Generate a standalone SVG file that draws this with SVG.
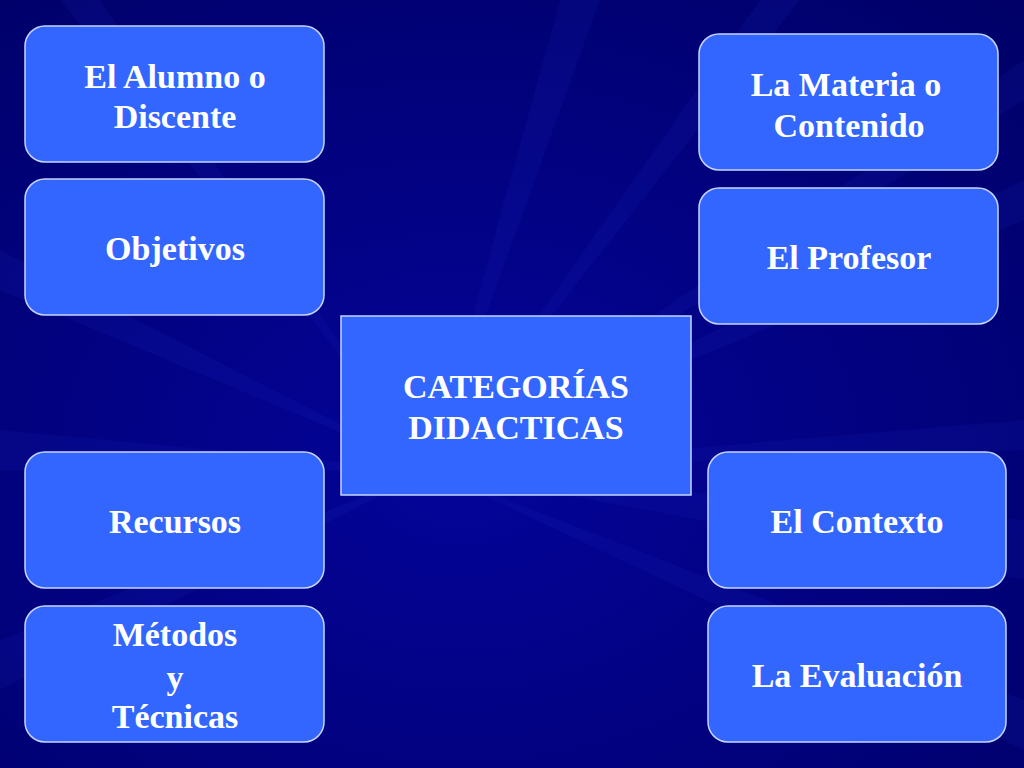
<svg xmlns="http://www.w3.org/2000/svg" width="1024" height="768" viewBox="0 0 1024 768">
<defs>
<style>
.box{fill:#3366FF;stroke:#C8D4FF;stroke-width:1.5}
.t{font-family:"Liberation Serif","Times New Roman",serif;font-weight:bold;font-size:34px;fill:#FFFFFF;text-anchor:middle}
.ray{fill:#2030c8;opacity:0.12}
</style>
<radialGradient id="bg" cx="0.45" cy="0.6" r="0.8">
<stop offset="0" stop-color="#04049a"/>
<stop offset="1" stop-color="#000068"/>
</radialGradient>
</defs>
<rect width="1024" height="768" fill="#000080"/>
<rect width="1024" height="768" fill="url(#bg)"/>
<g id="background-rays">
<polygon class="ray" points="430,470 60,0 100,0"/>
<polygon class="ray" points="430,470 560,0 600,0"/>
<polygon class="ray" points="430,470 760,0 800,0"/>
<polygon class="ray" points="430,470 1024,60 1024,100"/>
<polygon class="ray" points="430,470 1024,180 1024,220"/>
<polygon class="ray" points="430,470 1024,420 1024,450"/>
<polygon class="ray" points="430,470 1024,520 1024,580"/>
<polygon class="ray" points="430,470 1024,700 1024,750"/>
<polygon class="ray" points="430,470 0,250 0,290"/>
<polygon class="ray" points="430,470 0,430 0,470"/>
<polygon class="ray" points="430,470 0,640 0,690"/>
</g>
<g id="connectors"></g>
<g id="alumno"><rect class="box" x="25" y="26" width="299" height="136" rx="20"/><text class="t" x="175" y="88">El Alumno o</text><text class="t" x="175" y="128">Discente</text></g>
<g id="objetivos"><rect class="box" x="25" y="179" width="299" height="136" rx="20"/><text class="t" x="175" y="260">Objetivos</text></g>
<g id="recursos"><rect class="box" x="25" y="452" width="299" height="136" rx="20"/><text class="t" x="175" y="533">Recursos</text></g>
<g id="metodos"><rect class="box" x="25" y="606" width="299" height="136" rx="20"/><text class="t" x="175" y="646">Métodos</text><text class="t" x="175" y="689">y</text><text class="t" x="175" y="728">Técnicas</text></g>
<g id="materia"><rect class="box" x="699" y="34" width="299" height="136" rx="20"/><text class="t" x="846" y="96">La Materia o</text><text class="t" x="849" y="137">Contenido</text></g>
<g id="profesor"><rect class="box" x="699" y="188" width="299" height="136" rx="20"/><text class="t" x="849" y="269">El Profesor</text></g>
<g id="categorias"><rect class="box" x="341" y="316" width="350" height="179"/><text class="t" x="516" y="398">CATEGORÍAS</text><text class="t" x="516" y="439">DIDACTICAS</text></g>
<g id="contexto"><rect class="box" x="708" y="452" width="298" height="136" rx="20"/><text class="t" x="857" y="533">El Contexto</text></g>
<g id="evaluacion"><rect class="box" x="708" y="606" width="298" height="136" rx="20"/><text class="t" x="857" y="687">La Evaluación</text></g>
</svg>
